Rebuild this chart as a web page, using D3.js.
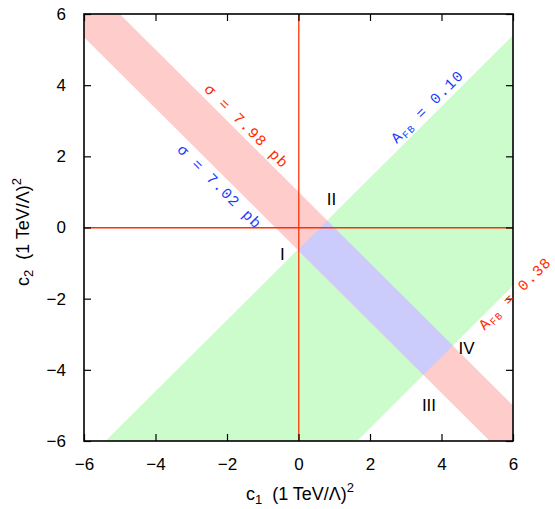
<!DOCTYPE html>
<html>
<head>
<meta charset="utf-8">
<script src="https://cdn.jsdelivr.net/npm/d3@7"></script>
<style>
  body { margin: 0; background: #fff; }
  text { font-family: 'Liberation Sans', Arial, sans-serif; }
  .note { font-family: 'Liberation Mono', 'Courier New', monospace; }
</style>
</head>
<body>
<svg id="chart" width="555" height="509"></svg>
<script>
// c1 + c2 = k  (cross section contours)
var sigmaNames = ['σ = 7.98 pb', 'σ = 7.02 pb']
var sigmaK = [1.0, -0.65]
// c1 - c2 = k  (forward-backward asymmetry contours)
var afbNames = ['0.10', '0.38']
var afbK = [0.6, 7.64]
var ticks = [-6, -4, -2, 0, 2, 4, 6]
var regions = ['I', 'II', 'III', 'IV']
// points where the regions are labelled (c1, c2)
var regionAt = [[-0.45, -0.75], [0.92, 0.8], [3.65, -5.0], [4.7, -3.4]]

var svg = d3.select('#chart')
var margin = { top: 14, right: 42, bottom: 68, left: 84 }
var width = 555 - margin.left - margin.right
var height = 509 - margin.top - margin.bottom

var x = d3.scaleLinear().domain([-6, 6]).range([0, width])
var y = d3.scaleLinear().domain([-6, 6]).range([height, 0])

var g = svg.append('g').attr('transform', `translate(${margin.left}, ${margin.top})`)

// clip a polygon with a half plane a*c1 + b*c2 <= k
function clip(poly, a, b, k) {
  var out = []
  for (var i = 0; i < poly.length; i++) {
    var p = poly[i], q = poly[(i + 1) % poly.length]
    var fp = a * p[0] + b * p[1] - k, fq = a * q[0] + b * q[1] - k
    if (fp <= 0) out.push(p)
    if ((fp < 0 && fq > 0) || (fp > 0 && fq < 0)) {
      var t = fp / (fp - fq)
      out.push([p[0] + t * (q[0] - p[0]), p[1] + t * (q[1] - p[1])])
    }
  }
  return out
}

var box = [[-6, -6], [6, -6], [6, 6], [-6, 6]]
function sigmaBand(poly) {
  poly = clip(poly, 1, 1, sigmaK[0])
  return clip(poly, -1, -1, -sigmaK[1])
}
function afbBand(poly) {
  poly = clip(poly, -1, 1, -afbK[0])
  return clip(poly, 1, -1, afbK[1])
}

var path = d3.line().x(d => x(d[0])).y(d => y(d[1]))
function area(poly, color) {
  g.append('path').attr('d', path(poly) + 'Z').attr('fill', color)
}
area(afbBand(box), '#ccfccc')
area(sigmaBand(box), '#ffcccc')
area(afbBand(sigmaBand(box)), '#ccccfc')

// zero lines (thin filled strips)
g.append('rect')
  .attr('x', x(-6)).attr('width', x(6) - x(-6))
  .attr('y', y(0) - 0.5).attr('height', 1.5)
  .attr('fill', '#ff3000')
g.append('rect')
  .attr('y', y(6)).attr('height', y(-6) - y(6))
  .attr('x', x(0) - 0.5).attr('width', 1.5)
  .attr('fill', '#ff3000').attr('fill-opacity', 0.85)

// axes
var axB = g.append('g').attr('transform', `translate(0, ${height})`)
  .call(d3.axisBottom(x).tickValues(ticks).tickSizeInner(-7).tickSizeOuter(0).tickPadding(17))
var axL = g.append('g')
  .call(d3.axisLeft(y).tickValues(ticks).tickSizeInner(-7).tickSizeOuter(0).tickPadding(18))
var axT = g.append('g')
  .call(d3.axisTop(x).tickValues(ticks).tickSizeInner(-7).tickSizeOuter(0).tickFormat(''))
var axR = g.append('g').attr('transform', `translate(${width}, 0)`)
  .call(d3.axisRight(y).tickValues(ticks).tickSizeInner(-7).tickSizeOuter(0).tickFormat(''))
var axes = [axB, axL, axT, axR]
axes.forEach(function(a) {
  a.select('.domain').remove()
  a.selectAll('.tick line').attr('stroke', '#000').attr('stroke-width', 1.2)
  a.selectAll('text').attr('font-size', 17).attr('fill', '#000')
    .attr('font-family', "'Liberation Sans', Arial, sans-serif")
})
axB.selectAll('text').attr('dy', '0.71em')

g.append('rect').attr('width', width).attr('height', height)
  .attr('fill', 'none').attr('stroke', '#000').attr('stroke-width', 1.6)

// contour labels
function note(c1, c2, angle, color) {
  return g.append('text').attr('class', 'note')
    .attr('transform', `translate(${x(c1)}, ${y(c2)}) rotate(${angle})`)
    .attr('text-anchor', 'middle').attr('font-size', 15)
    .attr('letter-spacing', 1.2).attr('fill', color)
}
note(-1.55, 2.75, 45, '#ff2a00').text(sigmaNames[0])
note(-2.3, 1.05, 45, '#1a3cff').text(sigmaNames[1])

var a1 = note(3.7, 3.3, -45, '#1a3cff')
a1.append('tspan').text('A')
a1.append('tspan').attr('font-size', 10).attr('dy', 3).text('FB')
a1.append('tspan').attr('dy', -3).text(' = ' + afbNames[0])
var a2 = note(6.15, -1.95, -45, '#ff2a00')
a2.append('tspan').text('A')
a2.append('tspan').attr('font-size', 10).attr('dy', 3).text('FB')
a2.append('tspan').attr('dy', -3).text(' = ' + afbNames[1])

// region numerals
g.selectAll('.region').data(regions).enter().append('text')
  .attr('x', (d, i) => x(regionAt[i][0]))
  .attr('y', (d, i) => y(regionAt[i][1]))
  .attr('text-anchor', 'middle').attr('dy', '0.35em')
  .attr('font-size', 17).text(d => d)

// axis titles
var xt = svg.append('text').attr('x', 300).attr('y', 500)
  .attr('text-anchor', 'middle').attr('font-size', 18)
xt.append('tspan').text('c')
xt.append('tspan').attr('font-size', 13).attr('dy', 4).text('1')
xt.append('tspan').attr('dy', -4).text('\u00a0\u00a0(1 TeV/Λ)')
xt.append('tspan').attr('font-size', 13).attr('dy', -8).text('2')

var yt = svg.append('text')
  .attr('transform', 'translate(29, 232) rotate(-90)')
  .attr('text-anchor', 'middle').attr('font-size', 18)
yt.append('tspan').text('c')
yt.append('tspan').attr('font-size', 13).attr('dy', 4).text('2')
yt.append('tspan').attr('dy', -4).text('\u00a0\u00a0(1 TeV/Λ)')
yt.append('tspan').attr('font-size', 13).attr('dy', -8).text('2')
</script>
</body>
</html>
